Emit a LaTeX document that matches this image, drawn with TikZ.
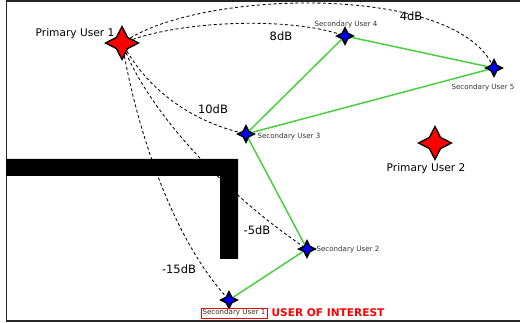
\documentclass[tikz,border=0pt]{standalone}
\usepackage{fontspec}
\setmainfont{DejaVu Sans}
\usepackage{tikz}
\usetikzlibrary{shapes.geometric,positioning}
\definecolor{linkgreen}{RGB}{72,208,64}

\begin{document}
\begin{tikzpicture}[x=1pt, y=-1pt, font=\fontsize{10.6}{12}\selectfont, primary/.style={star, star points=4, star point ratio=2.1, draw, line width=1.3pt, fill=red, inner sep=0pt, minimum size=33pt}, secondary/.style={star, star points=4, star point ratio=2.1, draw, line width=1.6pt, fill=blue, inner sep=0pt, minimum size=16pt}, sname/.style={font=\fontsize{7.1}{8}\selectfont, text=black!80}, gain/.style={font=\fontsize{11.5}{12}\selectfont}, fading/.style={dash pattern=on 3pt off 2.5pt, line width=0.85pt}, link/.style={linkgreen, line width=1.5pt}]
  \useasboundingbox (0,0) rectangle (520,323);
  \draw[line width=1.5pt, black!85] (6.5,1) rectangle (530,321);

  \node[primary] (pu1) at (122,43) {};
  \node[primary] (pu2) at (435,143) {};
  \node[secondary] (su1) at (229,300) {};
  \node[secondary] (su2) at (307,249) {};
  \node[secondary] (su3) at (246,134) {};
  \node[secondary] (su4) at (345,36) {};
  \node[secondary] (su5) at (494,68) {};

  \node (pu1name) at (75,34) {Primary User 1};
  \node (pu2name) at (426,169) {Primary User 2};
  \node[sname] (su4name) at (346,25) {Secondary User 4};
  \node[sname] (su5name) at (483,88) {Secondary User 5};
  \node[sname] (su3name) at (289,137) {Secondary User 3};
  \node[sname] (su2name) at (348,250) {Secondary User 2};
  \node[sname, draw=red, inner sep=1.5pt] (su1name) at (234,313) {Secondary User 1};
  \node[right=1pt of su1name, text=red, font=\fontsize{10.6}{12}\selectfont\bfseries] (interest) {USER OF INTEREST};

  \draw[fading] (pu1) .. controls (190,20) and (290,18) .. (su4);
  \draw[fading] (pu1) .. controls (210,-10) and (450,-15) .. (su5);
  \draw[fading] (pu1) .. controls (150,90) and (190,120) .. (su3);
  \draw[fading] (pu1) .. controls (150,110) and (220,190) .. (su2);
  \draw[fading] (pu1) .. controls (140,140) and (175,240) .. (su1);

  \node[gain] (g8) at (281,36) {8dB};
  \node[gain] (g4) at (411,16) {4dB};
  \node[gain] (g10) at (213,109) {10dB};
  \node[gain] (g5) at (257,230) {-5dB};
  \node[gain] (g15) at (179,269) {-15dB};

  \fill (6,159) rectangle (238,176) (220,159) rectangle (238,259);

  \draw[link] (su4) -- (su3) (su4) -- (su5) (su5) -- (su3) (su3) -- (su2) (su2) -- (su1);
\end{tikzpicture}
\end{document}
